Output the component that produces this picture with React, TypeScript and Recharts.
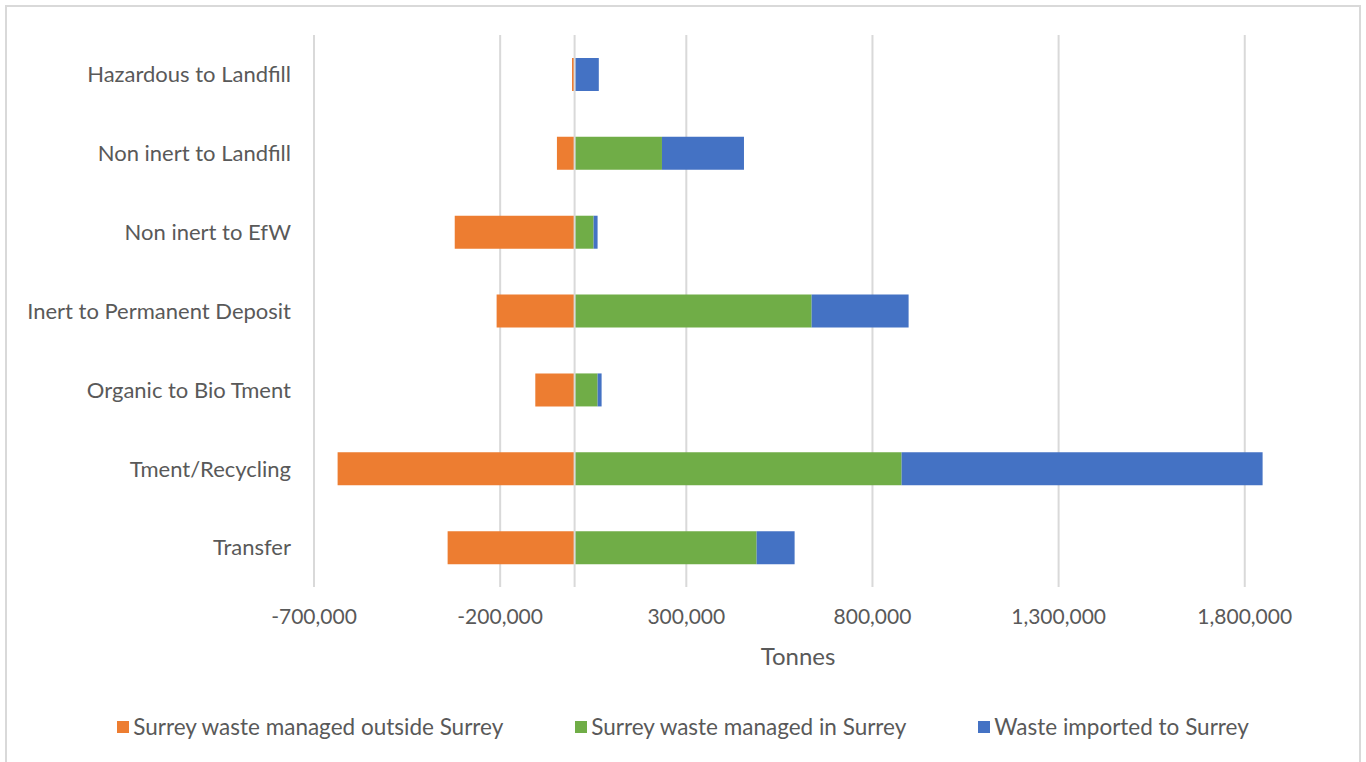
import React from 'react';
import { BarChart, Bar, XAxis, YAxis, CartesianGrid, Legend, ReferenceLine } from 'recharts';

const categories = [
  'Hazardous to Landfill',
  'Non inert to Landfill',
  'Non inert to EfW',
  'Inert to Permanent Deposit',
  'Organic to Bio Tment',
  'Tment/Recycling',
  'Transfer',
];
const managedOutside = [-7000, -47500, -322000, -209500, -105600, -636600, -341100];
const managedInside = [0, 234600, 51000, 636600, 61800, 878300, 488900];
const imported = [65000, 220300, 10700, 260500, 10700, 969600, 102000];
const xTicks = [-700000, -200000, 300000, 800000, 1300000, 1800000];
const xDomain = [-700000, 1900000];

const series = [
  { key: 'outside', name: 'Surrey waste managed outside Surrey', color: '#ED7D31' },
  { key: 'inside', name: 'Surrey waste managed in Surrey', color: '#70AD47' },
  { key: 'imported', name: 'Waste imported to Surrey', color: '#4472C4' },
];

const data = categories.map((name, i) => ({
  name,
  outside: managedOutside[i],
  inside: managedInside[i],
  imported: imported[i],
}));

const FONT = 'Lato, "Open Sans", sans-serif';
const TEXT = '#595959';

const fmt = (v: number) => v.toLocaleString('en-US');

// only draw gridlines at the tick values, not at the domain edges
const gridX = ({ offset }: any) =>
  xTicks.map(t => offset.left + ((t - xDomain[0]) / (xDomain[1] - xDomain[0])) * offset.width);

const LegendContent = () => (
  <div style={{ display: 'flex', justifyContent: 'center', gap: 72, fontFamily: FONT, fontSize: 22.5, color: TEXT }}>
    {series.map(s => (
      <div key={s.key} style={{ display: 'flex', alignItems: 'center' }}>
        <span style={{ width: 12, height: 12, background: s.color, marginRight: 4, display: 'inline-block' }} />
        <span>{s.name}</span>
      </div>
    ))}
  </div>
);

export default function App() {
  return (
    <div style={{ position: 'absolute', left: 0, top: 0, width: 1366, height: 762, overflow: 'hidden', background: '#fff' }}>
      <div style={{ position: 'absolute', left: 5, top: 5, width: 1352, height: 800, border: '2px solid #d9d9d9' }} />
      <div style={{ position: 'absolute', left: 0, top: 0 }}>
        <BarChart
          width={1366}
          height={762}
          data={data}
          layout="vertical"
          stackOffset="sign"
          margin={{ top: 35, right: 84, bottom: 97, left: 0 }}
        >
          <CartesianGrid horizontal={false} stroke="#d9d9d9" strokeWidth={2} verticalCoordinatesGenerator={gridX} />
          <XAxis
            type="number"
            domain={xDomain}
            ticks={xTicks}
            tickFormatter={fmt}
            axisLine={false}
            tickLine={false}
            tickMargin={16}
            height={78}
            tick={{ fill: TEXT, fontSize: 21, fontFamily: FONT }}
            label={{ value: 'Tonnes', position: 'insideBottom', offset: 0, fill: TEXT, fontSize: 24, fontFamily: FONT }}
          />
          <YAxis
            type="category"
            dataKey="name"
            width={314}
            axisLine={false}
            tickLine={false}
            tickMargin={17}
            tick={{ fill: TEXT, fontSize: 22, fontFamily: FONT }}
          />
          {series.map(s => (
            <Bar key={s.key} dataKey={s.key} name={s.name} stackId="a" fill={s.color} barSize={33} isAnimationActive={false} />
          ))}
          <ReferenceLine x={0} stroke="#d9d9d9" strokeWidth={2} />
          <Legend
            layout="horizontal"
            verticalAlign="middle"
            align="center"
            content={LegendContent}
            wrapperStyle={{ top: 713, left: 0, width: 1366 }}
          />
        </BarChart>
      </div>
    </div>
  );
}
